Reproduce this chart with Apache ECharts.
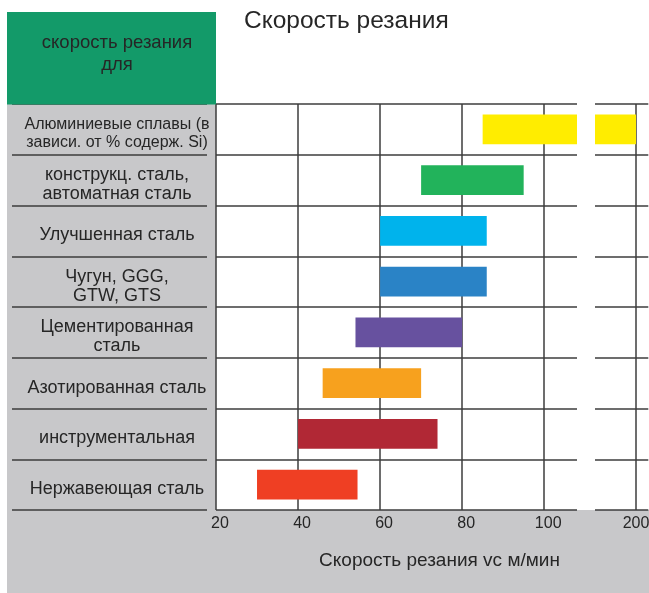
<!DOCTYPE html>
<html>
<head>
<meta charset="utf-8">
<script src="https://cdn.jsdelivr.net/npm/echarts@6/dist/echarts.min.js"></script>
<style>
  html, body { margin: 0; padding: 0; background: #ffffff; }
  #chart { width: 649px; height: 593px; }
</style>
</head>
<body>
<div id="chart"></div>
<script>
// Materials, top to bottom
const materials = [
  'Алюминиевые сплавы (в\nзависи. от % содерж. Si)',
  'конструкц. сталь,\nавтоматная сталь',
  'Улучшенная сталь',
  'Чугун, GGG,\nGTW, GTS',
  'Цементированная\nсталь',
  'Азотированная сталь',
  'инструментальная',
  'Нержавеющая сталь'
];
// Cutting speed range, m/min
const speedFrom = [85, 70, 60, 60, 54, 46, 40, 30];
const speedTo   = [200, 95, 86, 86, 80, 70, 74, 54.5];
// Tick labels of the main part and of the part after the break
const mainTicks = [20, 40, 60, 80, 100];
const farTicks = [200];

const barColors = ['#ffed00', '#22b35b', '#00b3ec', '#2a83c6', '#67519f', '#f7a11e', '#b12835', '#ef3f23'];

const FONT = '"Liberation Sans", Arial, Helvetica, sans-serif';
const TEXT = '#262626';
const LINE = '#3c3c3c';

const rows = materials.map((m, i) => [i, speedFrom[i], speedTo[i]]);

function renderBar(params, api) {
  const cat = api.value(0);
  const p0 = api.coord([api.value(1), cat]);
  const p1 = api.coord([api.value(2), cat]);
  const h = api.size([0, 1])[1] * 0.59;
  const cs = params.coordSys;
  const rect = echarts.graphic.clipRectByRect(
    { x: p0[0], y: p0[1] - h / 2, width: p1[0] - p0[0], height: h },
    { x: cs.x, y: cs.y, width: cs.width, height: cs.height }
  );
  if (!rect) return null;
  return { type: 'rect', shape: rect, style: { fill: barColors[params.dataIndex] } };
}

const chart = echarts.init(document.getElementById('chart'), null, { renderer: 'canvas' });

chart.setOption({
  animation: false,
  textStyle: { fontFamily: FONT },
  graphic: [
    // grey label panel and footer
    { type: 'rect', z: -10, shape: { x: 7, y: 104, width: 209, height: 489 }, style: { fill: '#c8c8ca' } },
    { type: 'rect', z: -10, shape: { x: 216, y: 510, width: 433, height: 83 }, style: { fill: '#c8c8ca' } },
    // green header box
    { type: 'rect', z: 50, shape: { x: 7, y: 12, width: 209, height: 92.5 }, style: { fill: '#139a69' } },
    { type: 'text', z: 51, x: 117, y: 54,
      style: { text: 'скорость резания\nдля', fill: TEXT, font: '18.5px ' + FONT,
               align: 'center', verticalAlign: 'middle', lineHeight: 22 } },
    // chart title
    { type: 'text', z: 51, x: 244, y: 21,
      style: { text: 'Скорость резания', fill: TEXT, font: '24.5px ' + FONT,
               align: 'left', verticalAlign: 'middle' } }
  ],
  grid: [
    { left: 216, top: 104, width: 361, bottom: 83, show: true, backgroundColor: '#fff', borderWidth: 0,
      outerBoundsMode: 'none', containLabel: false },
    { left: 595, top: 104, width: 53.3, bottom: 83, show: true, backgroundColor: '#fff', borderWidth: 0,
      outerBoundsMode: 'none', containLabel: false }
  ],
  xAxis: [
    {
      type: 'value', gridIndex: 0, min: 20, max: 108, interval: 20,
      axisLine: { show: false }, axisTick: { show: false },
      splitLine: { show: true, showMinLine: true, showMaxLine: false, lineStyle: { color: LINE, width: 1.5 } },
      axisLabel: {
        color: TEXT, fontSize: 16, margin: 6, padding: [0, 0, 0, 8], showMaxLabel: false,
        formatter: v => (mainTicks.includes(v) ? String(v) : '')
      },
      name: 'Скорость резания vc м/мин', nameLocation: 'middle', nameGap: 41,
      nameTextStyle: { color: TEXT, fontSize: 19, padding: [0, 0, 0, 86] }
    },
    {
      type: 'value', gridIndex: 1, min: 190, max: 203, interval: 10,
      axisLine: { show: false }, axisTick: { show: false },
      splitLine: { show: true, showMinLine: false, showMaxLine: false, lineStyle: { color: LINE, width: 1.5 } },
      axisLabel: {
        color: TEXT, fontSize: 16, margin: 6, showMinLabel: false, showMaxLabel: false,
        formatter: v => (farTicks.includes(v) ? String(v) : '')
      }
    }
  ],
  yAxis: [
    {
      type: 'category', gridIndex: 0, data: materials, inverse: true, offset: 9,
      axisLine: { show: false },
      axisTick: { show: true, length: 195, lineStyle: { color: LINE, width: 1.5 } },
      splitLine: { show: true, lineStyle: { color: LINE, width: 1.5 } },
      axisLabel: {
        margin: 90, align: 'center', color: TEXT, fontSize: 18, lineHeight: 19, padding: [9, 0, 0, 0],
        formatter: (v, i) => i === 0 ? v.split('\n').map(s => '{s|' + s + '}').join('\n') : v,
        rich: { s: { fontSize: 16, lineHeight: 18, color: TEXT } }
      }
    },
    {
      type: 'category', gridIndex: 1, data: materials, inverse: true,
      axisLine: { show: false }, axisTick: { show: false }, axisLabel: { show: false },
      splitLine: { show: true, lineStyle: { color: LINE, width: 1.5 } }
    }
  ],
  series: [
    { type: 'custom', xAxisIndex: 0, yAxisIndex: 0, renderItem: renderBar,
      encode: { x: [1, 2], y: 0 }, data: rows, z: 5 },
    { type: 'custom', xAxisIndex: 1, yAxisIndex: 1, renderItem: renderBar,
      encode: { x: [1, 2], y: 0 }, data: rows, z: 5 }
  ]
});
</script>
</body>
</html>
